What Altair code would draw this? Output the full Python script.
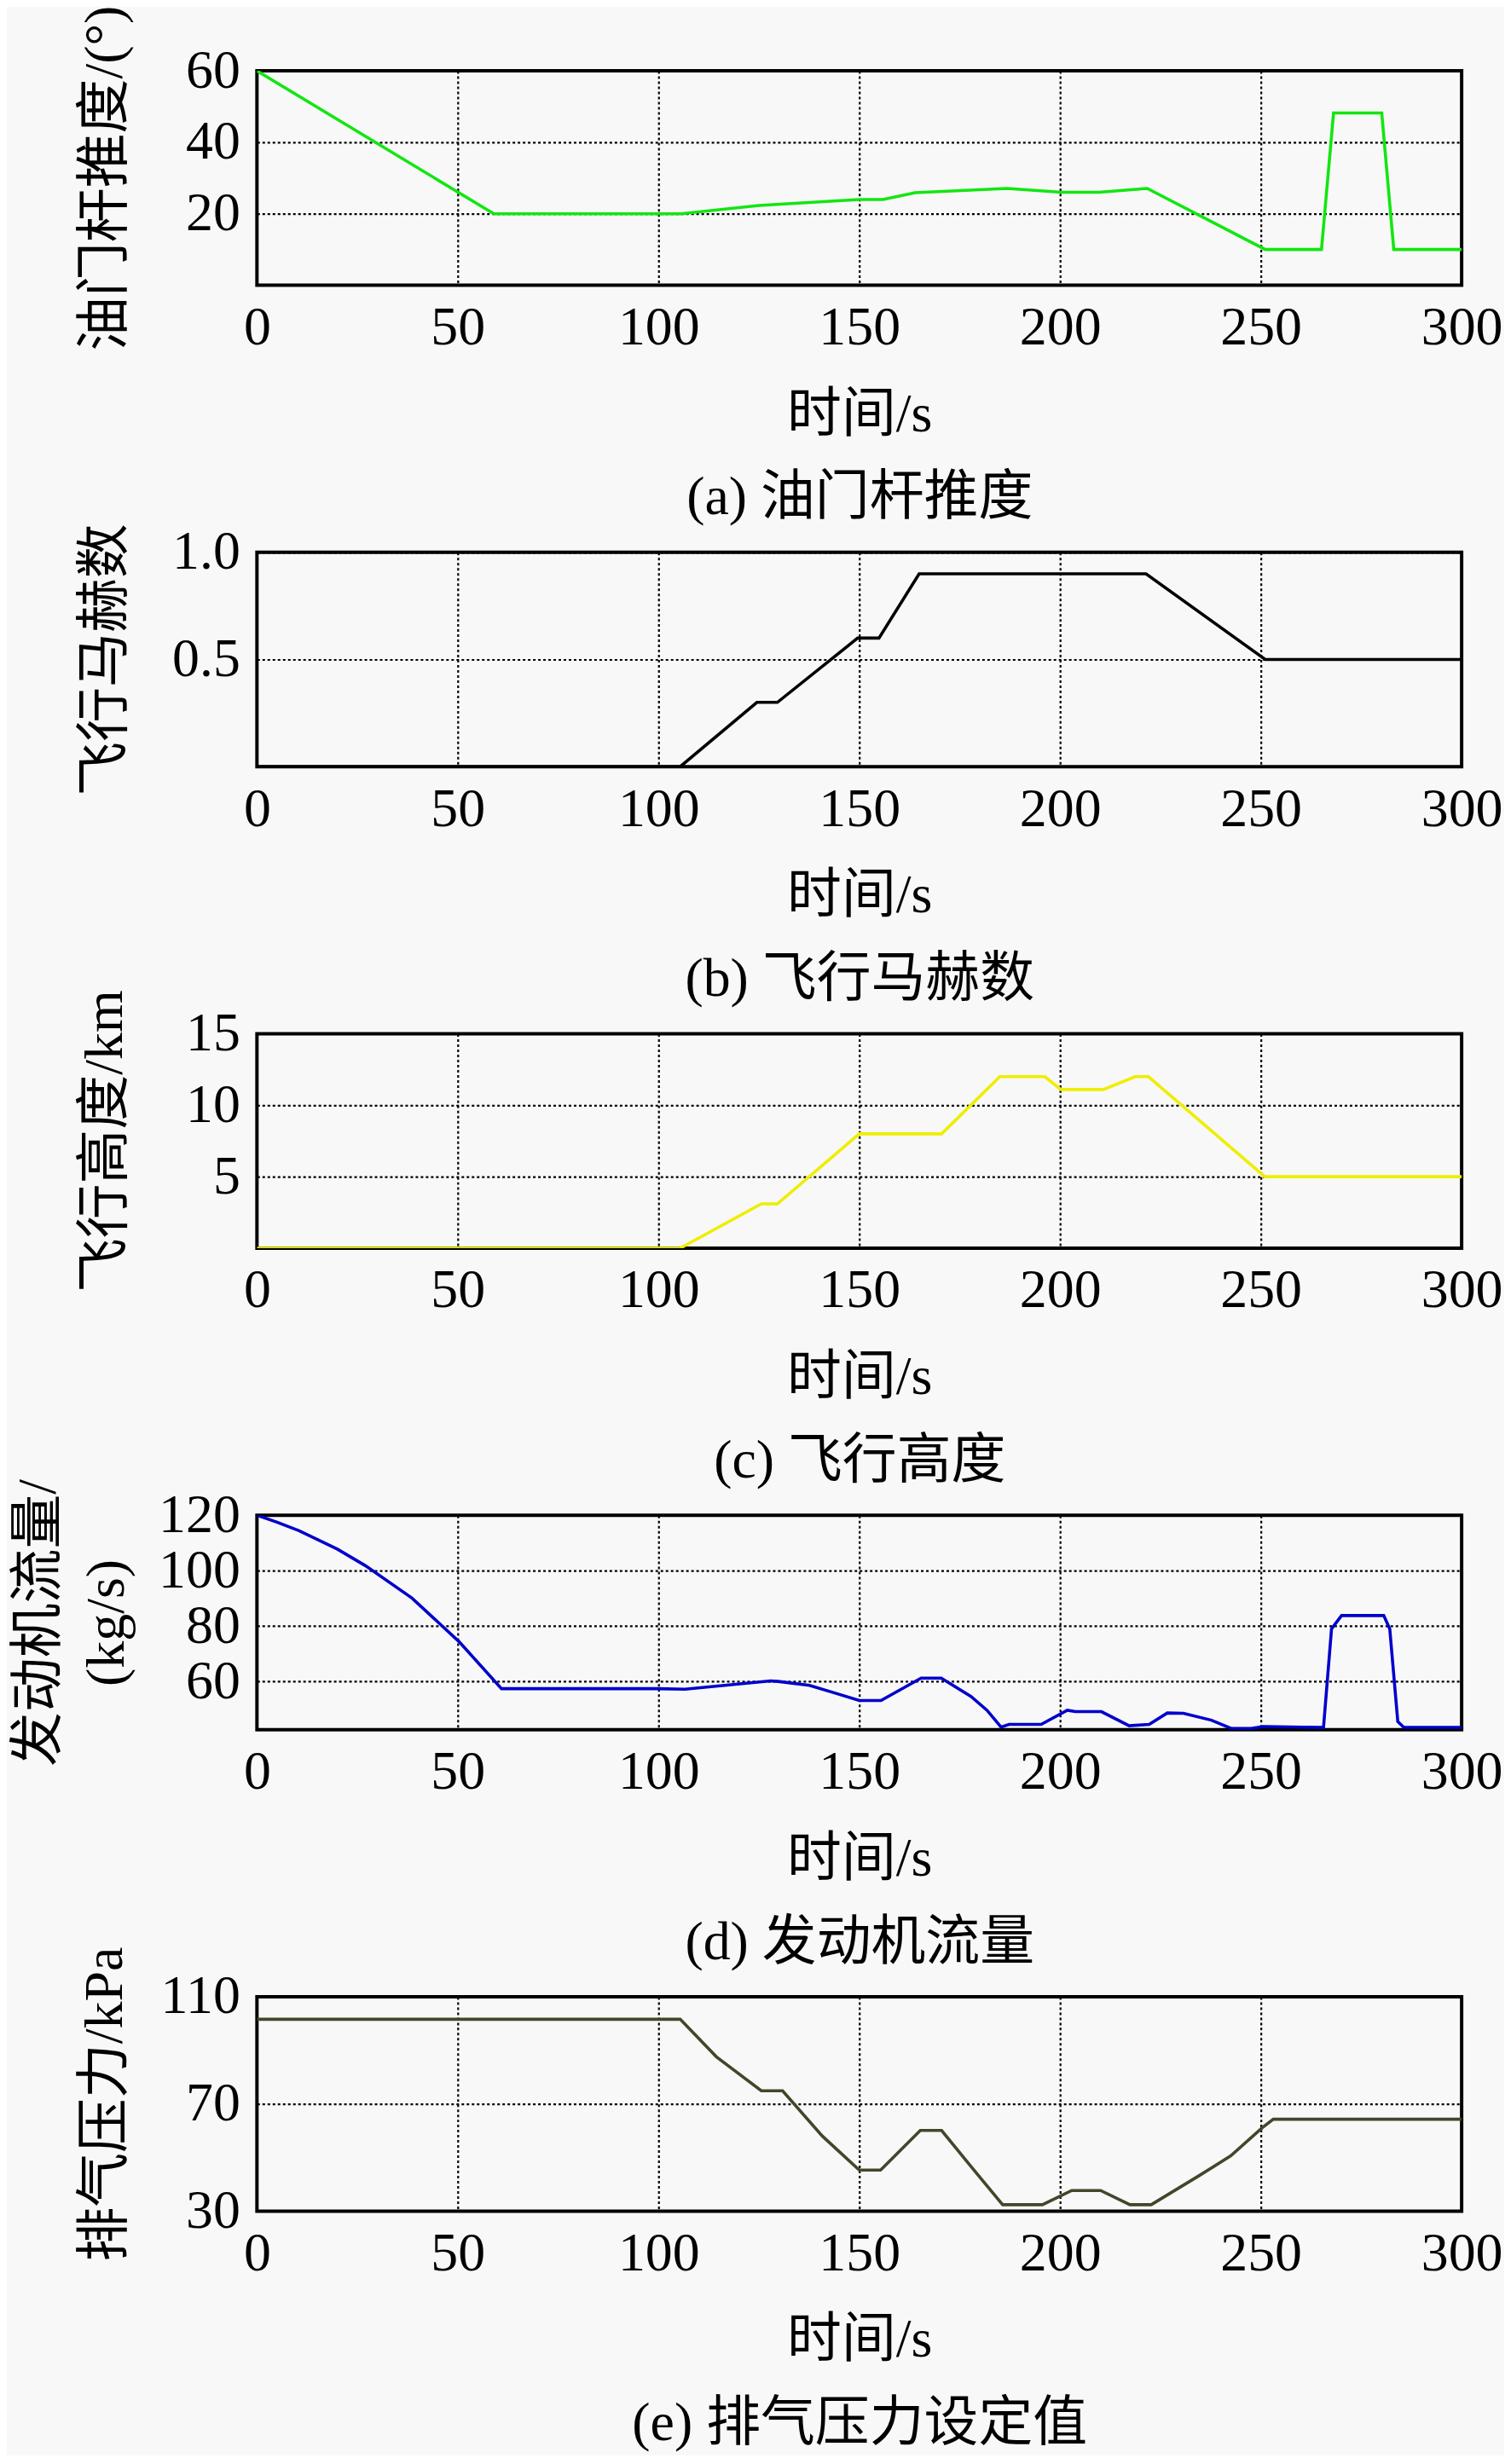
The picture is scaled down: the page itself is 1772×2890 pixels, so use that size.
import altair as alt
import pandas as pd

# ---------------- data ----------------
X_TICKS = [0, 50, 100, 150, 200, 250, 300]

t_a = [0, 59, 105.6, 125, 150, 155.9, 163.9, 186.8, 200.3, 209.7, 221.7, 251.1, 265.1, 268.1, 280.1, 283.1, 300]
v_a = [60, 20, 20, 22.3, 24, 24, 25.9, 27.1, 26, 26, 27.1, 10, 10, 48.2, 48.2, 10, 10]

t_b = [0, 105.4, 124.5, 129.6, 149.6, 154.9, 164.9, 221.4, 251.1, 300]
v_b = [0, 0, 0.3, 0.3, 0.6, 0.6, 0.9, 0.9, 0.5, 0.5]

t_c = [0, 105.4, 125.6, 129.6, 150, 170.5, 185, 196.2, 200.2, 210.8, 218.7, 222, 251, 300]
v_c = [0, 0, 3.1, 3.1, 8, 8, 12, 12, 11.1, 11.1, 12, 12, 5, 5]

t_d = [0, 5, 10.5, 20, 27, 38.6, 50.3, 60.9, 99.8, 106.6, 127.9, 129.8, 137.6, 143.5, 150,
       155.4, 165.4, 170.4, 177.8, 181.8, 185.3, 187.3, 195.3, 201.8, 203.8, 210.3, 217.2,
       222.2, 226.7, 230.7, 237.7, 242.7, 247.6, 250.6, 265.6, 267.6, 270.1, 280.6, 282.1,
       284.1, 285.6, 300]
v_d = [120, 117.5, 114.4, 107.8, 101.8, 90.1, 74.4, 57.4, 57.4, 57.2, 60.2, 60, 58.6, 56.0, 53.1,
       53.1, 61.2, 61.2, 54.6, 49.6, 43.5, 44.5, 44.5, 49.6, 49.1, 49.1, 44.0,
       44.5, 48.6, 48.5, 46.0, 43.0, 43.0, 43.7, 43.4, 79, 83.8, 83.8, 79,
       45.5, 43.4, 43.4]

t_e = [0, 105.4, 114.4, 125.6, 130.9, 140.8, 150, 155.3, 165.2, 170.5, 179.1, 185.7, 195.6,
       202.9, 210.1, 217.4, 222.7, 234.6, 242.5, 250.4, 253.1, 300]
v_e = [101.6, 101.6, 87.6, 74.9, 74.9, 58.0, 45.3, 45.3, 60.1, 60.1, 44.3, 32.4, 32.4,
       37.7, 37.7, 32.4, 32.4, 43.2, 50.6, 61.2, 64.3, 64.3]

X_LABEL = "时间/s"
captions = ["(a) 油门杆推度", "(b) 飞行马赫数", "(c) 飞行高度", "(d) 发动机流量", "(e) 排气压力设定值"]
y_titles = ["油门杆推度/(°)", "飞行马赫数", "飞行高度/km", ["发动机流量/", "(kg/s)"], "排气压力/kPa"]
y_domains = [[0, 60], [0, 1], [0, 15], [42.6, 120], [30, 110]]
y_ticks = [[20, 40, 60], [0.5, 1.0], [5, 10, 15], [60, 80, 100, 120], [30, 70, 110]]
y_formats = ["d", ".1f", "d", "d", "d"]
colors = ["#12e612", "#000000", "#eeee00", "#0000cc", "#45452a"]

FONT = "Liberation Serif, 'Noto Sans CJK SC'"
W, H = 1416, 252


def panel(t, v, color, ydom, yvals, yfmt, ytitle, caption):
    df = pd.DataFrame({"t": t, "v": v})
    two_line = isinstance(ytitle, list)
    return (
        alt.Chart(df)
        .mark_line(color=color, strokeWidth=3.6, clip=True)
        .encode(
            x=alt.X(
                "t:Q",
                scale=alt.Scale(domain=[0, 300], nice=False, zero=False),
                axis=alt.Axis(
                    values=X_TICKS,
                    format="d",
                    title=[X_LABEL, caption],
                    titleLineHeight=98,
                    titleBaseline="top",
                    titlePadding=38,
                    labelPadding=18,
                    labelFlush=False,
                    labelOverlap=False,
                ),
            ),
            y=alt.Y(
                "v:Q",
                scale=alt.Scale(domain=ydom, nice=False, zero=False),
                axis=alt.Axis(
                    values=yvals,
                    format=yfmt,
                    title=ytitle,
                    titleAngle=270,
                    titleAlign="center",
                    titleBaseline="middle",
                    titleX=-256 if two_line else -178,
                    titleY=H / 2,
                    titleLineHeight=80,
                    labelPadding=20,
                    labelOverlap=False,
                ),
            ),
        )
        .properties(width=W, height=H)
    )


panels = [
    panel(t, v, c, d, tv, f, yt, cap)
    for t, v, c, d, tv, f, yt, cap in zip(
        [t_a, t_b, t_c, t_d, t_e],
        [v_a, v_b, v_c, v_d, v_e],
        colors, y_domains, y_ticks, y_formats, y_titles, captions,
    )
]

chart = (
    alt.vconcat(*panels, spacing=314, bounds="flush")
    .properties(background="#f8f8f8", padding={"left": 3, "top": -7, "right": 0, "bottom": 0})
    .configure_view(stroke="#000000", strokeWidth=4, fill="#f8f8f8")
    .configure_axis(
        labelFont=FONT,
        labelFontSize=64,
        labelColor="#000000",
        titleFont=FONT,
        titleFontSize=64,
        titleFontWeight="normal",
        titleColor="#000000",
        ticks=False,
        domain=False,
        grid=True,
        gridColor="#000000",
        gridDash=[3, 3],
        gridWidth=2.2,
        gridOpacity=1,
    )
)

chart.save("out.html", embed_options={"renderer": "svg", "actions": False})
